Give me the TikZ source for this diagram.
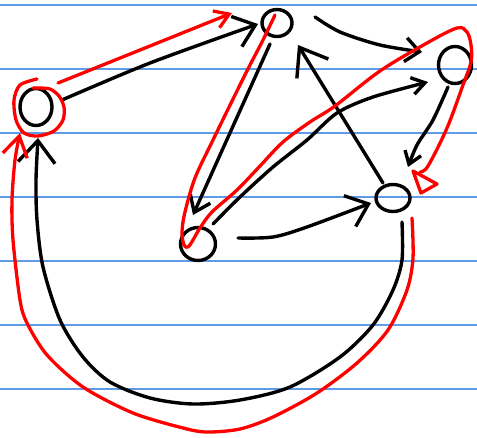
\documentclass[tikz,border=0pt]{standalone}
\usetikzlibrary{arrows.meta,shapes.geometric,calc}
\definecolor{ruleblue}{RGB}{95,155,230}
\begin{document}
\begin{tikzpicture}[x=1pt,y=-1pt,
  blk/.style={line width=3.4pt,black,line cap=round,line join=round},
  rd/.style={line width=3.3pt,red,line cap=round,line join=round},
  nd/.style={ellipse,draw,line width=3.4pt,inner sep=0pt,outer sep=0pt},
  ruleline/.style={line width=1.2pt,ruleblue}]
\fill[white] (0,0) rectangle (477,437);
\useasboundingbox (0,0) rectangle (477,437);
\foreach \yy in {5,69,133,197,261,325,389} \draw[ruleline] (0,\yy) -- (477,\yy);
% nodes
\node[nd,minimum width=32pt,minimum height=37pt] (A) at (36,107) {};
\node[nd,minimum width=30pt,minimum height=27pt] (B) at (277,23) {};
\node[nd,minimum width=33pt,minimum height=37pt] (C) at (455,65) {};
\node[nd,minimum width=34pt,minimum height=27pt] (D) at (393,198) {};
\node[nd,minimum width=35pt,minimum height=33pt] (E) at (198,244) {};
% black edges
\draw[blk,-{Straight Barb[length=20pt,width=32pt]}] plot[smooth] coordinates {($(A)+(26,-7)$) (150,63) ($(B)+(-19,1)$)};
\draw[blk,-{Straight Barb[length=15pt,width=22pt]}] ($(B)+(-7,21)$) -- ($(E)+(-5,-29)$);
\draw[blk,-{Straight Barb[length=14pt,width=24pt]}] plot[smooth] coordinates {($(B)+(38,-6)$) (340,32) (380,45) ($(C)+(-33,-13)$)};
\draw[blk,-{Straight Barb[length=13pt,width=17pt]}] plot[smooth] coordinates {($(E)+(15,-20)$) (240,197) (273,167) (307,140) (337,113) (373,97) ($(C)+(-27,17)$)};
\draw[blk,-{Straight Barb[length=25pt,width=37pt]}] ($(D)+(-10,-15)$) -- ($(B)+(21,22)$);
\draw[blk,-{Straight Barb[length=12pt,width=17pt]}] plot[smooth] coordinates {($(C)+(-7,22)$) (433,120) (417,145) ($(D)+(15,-31)$)};
\draw[blk,-{Straight Barb[length=20pt,width=33pt]}] plot[smooth] coordinates {($(E)+(40,-6)$) (273,237) (307,227) ($(D)+(-22,5)$)};
\draw[blk,-{Straight Barb[length=22pt,width=37pt]}] plot[smooth] coordinates {($(D)+(9,24)$) (402,260) (393,290) (373,325) (340,357) (290,387) (240,400) (193,404) (150,398) (110,382) (83,357) (60,320) (43,267) (37,220) (36,180) ($(A)+(2,31)$)};
% red highlights
\draw[rd] plot[smooth] coordinates {(37,79) (20,85) (14,100) (16,120) (24,133) (38,136) (54,131) (63,120) (64,107) (59,96) (50,89) (38,88) (33,88)};
\draw[rd,-{Straight Barb[length=14pt,width=18pt]}] ($(A)+(22,-24)$) -- ($(B)+(-45,-10)$);
\draw[rd] plot[smooth,tension=0.55] coordinates {(275,15) (262,42) (250,65) (235,95) (213,140) (195,178) (185,212) (182,232) (184,245) (188,247) (193,240) (200,228) (212,212) (237,190) (260,166) (283,142) (310,122) (335,106) (380,71) (427,43) (457,28) (467,32) (471,45) (471,62) (463,85) (447,128) (428,166) (420,172)};
\draw[rd] (413,171) -- (437,184) -- (421,193) -- cycle;
\draw[rd,-{Straight Barb[length=20pt,width=25pt]}] plot[smooth] coordinates {($(D)+(19,20)$) (413,258) (407,290) (388,330) (357,363) (317,393) (273,417) (240,429) (207,432) (183,428) (133,413) (83,387) (47,355) (27,323) (20,300) (13,240) (12,200) (15,160) ($(A)+(-16,26)$)};
\end{tikzpicture}
\end{document}
